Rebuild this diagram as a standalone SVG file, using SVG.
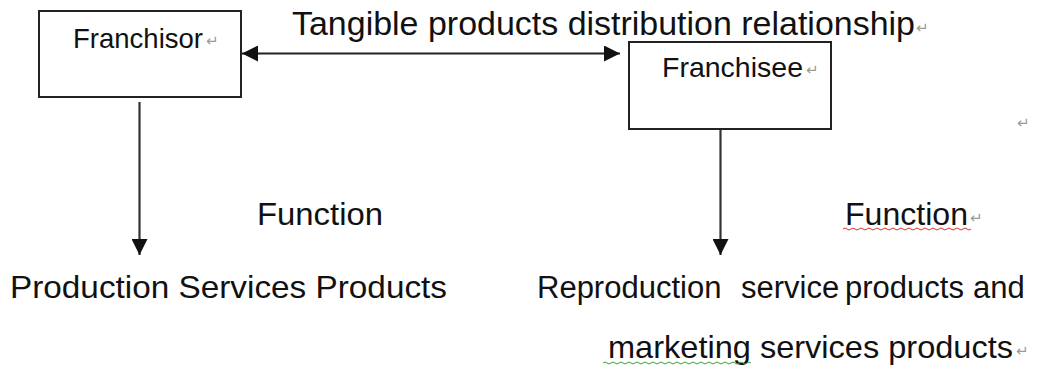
<svg xmlns="http://www.w3.org/2000/svg" width="1057" height="366" viewBox="0 0 1057 366">
  <style>
    .box { fill: #ffffff; stroke: #222222; stroke-width: 2; }
    .t { font-family: "Liberation Sans", Arial, sans-serif; fill: #111111; }
    .pm { font-family: "DejaVu Sans", sans-serif; font-size: 15px; fill: #9a9a9a; }
    .conn { stroke: #222222; stroke-width: 2; fill: none; }
    .vconn { stroke: #333333; stroke-width: 2.2; fill: none; }
  </style>
  <defs>
    <marker id="ah" viewBox="0 0 16 16" refX="16" refY="8" markerWidth="16" markerHeight="16" markerUnits="userSpaceOnUse" orient="auto-start-reverse">
      <path d="M0,0 L16,8 L0,16 Z" fill="#111111"/>
    </marker>
  </defs>
  <rect width="1057" height="366" fill="#ffffff"/>

  <g id="connectors">
    <line class="conn" x1="242" y1="53.5" x2="620" y2="53.5" marker-start="url(#ah)" marker-end="url(#ah)"/>
    <line class="vconn" x1="139.5" y1="102" x2="139.5" y2="255" marker-end="url(#ah)"/>
    <line class="vconn" x1="720.5" y1="102" x2="720.5" y2="255" marker-end="url(#ah)"/>
  </g>

  <g id="franchisor">
    <rect class="box" x="39" y="11" width="202" height="86"/>
    <text class="t" x="73" y="48" font-size="28" textLength="130" lengthAdjust="spacingAndGlyphs">Franchisor</text>
    <text class="pm" x="206" y="46">↵</text>
  </g>

  <g id="franchisee">
    <rect class="box" x="629" y="42" width="202" height="87"/>
    <text class="t" x="662" y="77" font-size="28" textLength="141" lengthAdjust="spacingAndGlyphs">Franchisee</text>
    <text class="pm" x="806" y="75">↵</text>
  </g>

  <g id="relationship-label">
    <text class="t" x="292" y="35" font-size="33" textLength="623" lengthAdjust="spacingAndGlyphs">Tangible products distribution relationship</text>
    <text class="pm" x="916" y="33">↵</text>
  </g>

  <text class="pm" x="1017" y="128">↵</text>

  <g id="function-left">
    <text class="t" x="257" y="225" font-size="32" textLength="126" lengthAdjust="spacingAndGlyphs">Function</text>
  </g>

  <g id="function-right">
    <text class="t" x="845" y="225" font-size="32" textLength="123" lengthAdjust="spacingAndGlyphs">Function</text>
    <text class="pm" x="970" y="223">↵</text>
    <path d="M843,229 q2,-2 4,0 t4,0 t4,0 t4,0 t4,0 t4,0 t4,0 t4,0 t4,0 t4,0 t4,0 t4,0 t4,0 t4,0 t4,0 t4,0 t4,0 t4,0 t4,0 t4,0 t4,0 t4,0 t4,0 t4,0 t4,0 t4,0 t4,0 t4,0 t4,0 t4,0 t4,0 t4,0" fill="none" stroke="#e03030" stroke-width="1"/>
  </g>

  <g id="production">
    <text class="t" x="10" y="298" font-size="32" textLength="437" lengthAdjust="spacingAndGlyphs">Production Services Products</text>
  </g>

  <g id="reproduction">
    <text class="t" y="298" font-size="31">
      <tspan x="537">Reproduction</tspan>
      <tspan x="741">service</tspan>
      <tspan x="845">products</tspan>
      <tspan x="973">and</tspan>
    </text>
    <text class="t" x="608" y="358" font-size="32" textLength="405" lengthAdjust="spacingAndGlyphs">marketing services products</text>
    <text class="pm" x="1016" y="356">↵</text>
    <path d="M603,363 q2,-2 4,0 t4,0 t4,0 t4,0 t4,0 t4,0 t4,0 t4,0 t4,0 t4,0 t4,0 t4,0 t4,0 t4,0 t4,0 t4,0 t4,0 t4,0 t4,0 t4,0 t4,0 t4,0 t4,0 t4,0 t4,0 t4,0 t4,0 t4,0 t4,0 t4,0 t4,0 t4,0 t4,0 t4,0 t4,0 t4,0 t4,0" fill="none" stroke="#3aa03a" stroke-width="1"/>
  </g>
</svg>
